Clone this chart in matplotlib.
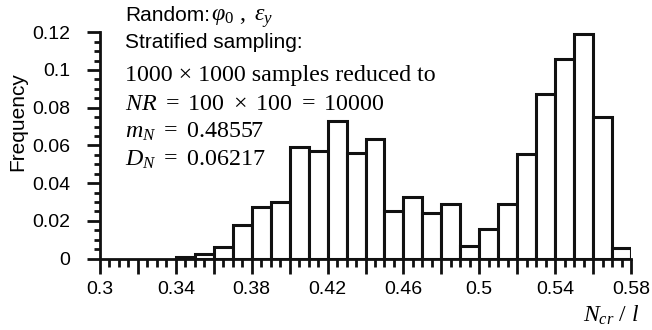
import numpy as np
import matplotlib
matplotlib.use("Agg")
import matplotlib.pyplot as plt
from matplotlib.ticker import FixedLocator, MultipleLocator

# histogram data (bin width 0.01)
bin_left = [0.34, 0.35, 0.36, 0.37, 0.38, 0.39, 0.40, 0.41, 0.42, 0.43, 0.44, 0.45,
            0.46, 0.47, 0.48, 0.49, 0.50, 0.51, 0.52, 0.53, 0.54, 0.55, 0.56, 0.57]
freq = [0.0010, 0.0022, 0.0062, 0.0179, 0.0272, 0.0301, 0.0590, 0.0572, 0.0731, 0.0561,
        0.0633, 0.0254, 0.0326, 0.0241, 0.0291, 0.0065, 0.0155, 0.0291, 0.0553, 0.0871,
        0.1060, 0.1193, 0.0749, 0.0054]
bin_width = 0.01

x_major = [0.30, 0.32, 0.34, 0.36, 0.38, 0.40, 0.42, 0.44, 0.46, 0.48, 0.50, 0.52,
           0.54, 0.56, 0.58]
x_labels = ["0.3", "", "0.34", "", "0.38", "", "0.42", "", "0.46", "", "0.5", "",
            "0.54", "", "0.58"]
y_major = [0, 0.02, 0.04, 0.06, 0.08, 0.10, 0.12]
y_labels = ["0", "0.02", "0.04", "0.06", "0.08", "0.1", "0.12"]

SANS = "Liberation Sans"
SERIF = "Liberation Serif"
plt.rcParams["font.family"] = SANS
plt.rcParams["mathtext.fontset"] = "custom"
plt.rcParams["mathtext.rm"] = SERIF
plt.rcParams["mathtext.it"] = SERIF + ":italic"
plt.rcParams["mathtext.sf"] = SANS

W, H = 652, 330
fig = plt.figure(figsize=(W / 100, H / 100), dpi=100)
ax = fig.add_axes([100 / W, 1 - 258.5 / H, 531 / W, 226.2 / H])

ax.bar(bin_left, freq, width=bin_width, align="edge", facecolor="white",
       edgecolor="#111111", linewidth=2.2, zorder=3)

ax.set_xlim(0.30, 0.58)
ax.set_ylim(0, 0.12)
for s in ("top", "right"):
    ax.spines[s].set_visible(False)
for s in ("left", "bottom"):
    ax.spines[s].set_linewidth(2.0)
    ax.spines[s].set_color("#111111")

ax.xaxis.set_major_locator(FixedLocator(x_major))
ax.set_xticklabels(x_labels)
ax.xaxis.set_minor_locator(MultipleLocator(0.005))
ax.yaxis.set_major_locator(FixedLocator(y_major))
ax.set_yticklabels(y_labels)
ax.yaxis.set_minor_locator(MultipleLocator(0.005))

ax.tick_params(axis="x", which="major", direction="out", length=10.5, width=2.0,
               pad=6, labelsize=14, color="#111111")
ax.tick_params(axis="x", which="minor", direction="out", length=5.5, width=2.0,
               color="#111111")
ax.tick_params(axis="y", which="major", direction="out", length=9.5, width=2.0,
               pad=12, labelsize=14, color="#111111")
ax.tick_params(axis="y", which="minor", direction="out", length=4.5, width=2.0,
               color="#111111")

# axis labels
fig.text(18 / W, 1 - 122 / H, "Frequency", rotation=90, ha="center", va="center",
         fontsize=15)
fig.text(639 / W, 1 - 321.5 / H, r"$N_{cr}\ /\ l$", ha="right", va="baseline",
         fontsize=17)

# annotation block
x0 = 125 / W
fs = 17.3
fig.text(x0, 1 - 20.7 / H, "Random:", ha="left", va="baseline", fontsize=15)
fig.text(211 / W, 1 - 20.7 / H, r"$\varphi_0\ ,\ \varepsilon_y$", ha="left",
         va="baseline", fontsize=fs)
fig.text(x0, 1 - 48.3 / H, "Stratified sampling:", ha="left", va="baseline", fontsize=15)
fig.text(x0, 1 - 81.5 / H, "1000 \u00d7 1000 samples reduced to", family=SERIF,
         ha="left", va="baseline", fontsize=fs)
fig.text(x0, 1 - 110 / H, r"$NR\ \mathrm{=\ 100\ \times\ 100\ =\ 10000}$",
         ha="left", va="baseline", fontsize=fs)
fig.text(x0, 1 - 137.5 / H, r"$m_N\ \mathrm{=\ 0.48557}$", ha="left", va="baseline",
         fontsize=fs)
fig.text(x0, 1 - 166 / H, r"$D_N\ \mathrm{=\ 0.06217}$", ha="left", va="baseline",
         fontsize=fs)

fig.savefig("out.png", dpi=100)
